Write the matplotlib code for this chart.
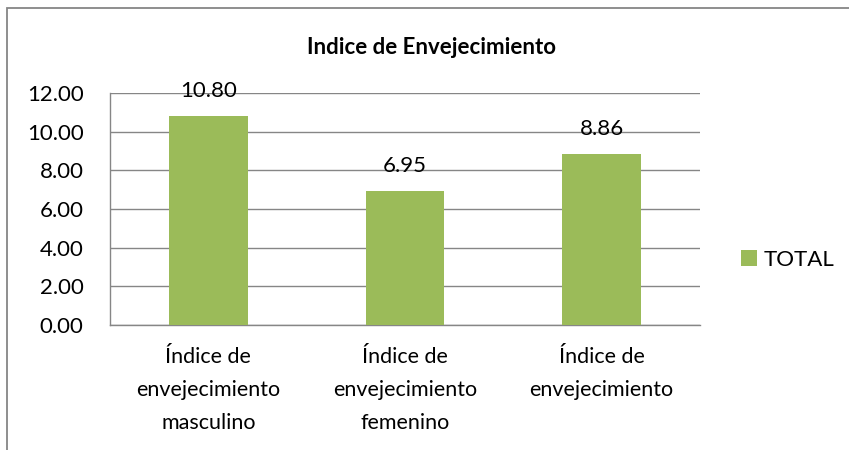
import matplotlib
matplotlib.use("Agg")
import matplotlib.pyplot as plt
from matplotlib.patches import Rectangle

categories = ["Índice de\nenvejecimiento\nmasculino", "Índice de\nenvejecimiento\nfemenino", "Índice de\nenvejecimiento"]
values = [10.80, 6.95, 8.86]
series_name = "TOTAL"
title = "Indice de Envejecimiento"
yticks = [0, 2, 4, 6, 8, 10, 12]

plt.rcParams['font.family'] = ['Lato', 'DejaVu Sans']
green = "#9BBB59"
grid_c = "#868686"

fig = plt.figure(figsize=(8.49, 4.5), dpi=100)
ax = fig.add_axes([110/849, 1 - 325/450, (700-110)/849, (325-93)/450])

x = list(range(len(categories)))
bars = ax.bar(x, values, width=0.40, color=green, label=series_name, zorder=3)
for xi, v in zip(x, values):
    ax.text(xi, v + 0.98, f"{v:.2f}", ha="center", va="baseline", fontsize=16, color="#000000", zorder=4)

ax.set_xlim(-0.5, len(categories) - 0.5)
ax.set_ylim(0, 12)
ax.set_yticks(yticks)
ax.set_yticklabels([f"{t:.2f}" for t in yticks], fontsize=16)
ax.set_xticks(x)
ax.set_xticklabels(categories, fontsize=15.5, linespacing=1.82)
ax.tick_params(axis="x", length=0, pad=16)
ax.tick_params(axis="y", length=0, pad=19)
ax.yaxis.grid(True, color=grid_c, linewidth=1, zorder=0)
for s in ["top", "right"]:
    ax.spines[s].set_visible(False)
for s in ["left", "bottom"]:
    ax.spines[s].set_color(grid_c)
    ax.spines[s].set_linewidth(1)

fig.text(431/849, 1 - 47/450, title, ha="center", va="center", fontsize=16, fontweight="bold")

leg = fig.legend(handles=[bars], labels=[series_name], loc="center left",
                 bbox_to_anchor=(741/849, 1 - 260/450), frameon=False, fontsize=16,
                 handlelength=0.7, handleheight=0.7, handletextpad=0.3, borderaxespad=0,
                 borderpad=0)

# chart-area border
fig.patches.append(Rectangle((6.5/849, -0.05), 2.0, 1 - 7.5/450 + 0.05, transform=fig.transFigure,
                             fill=False, edgecolor="#868686", linewidth=1.3))

fig.savefig("out.png", dpi=100)
